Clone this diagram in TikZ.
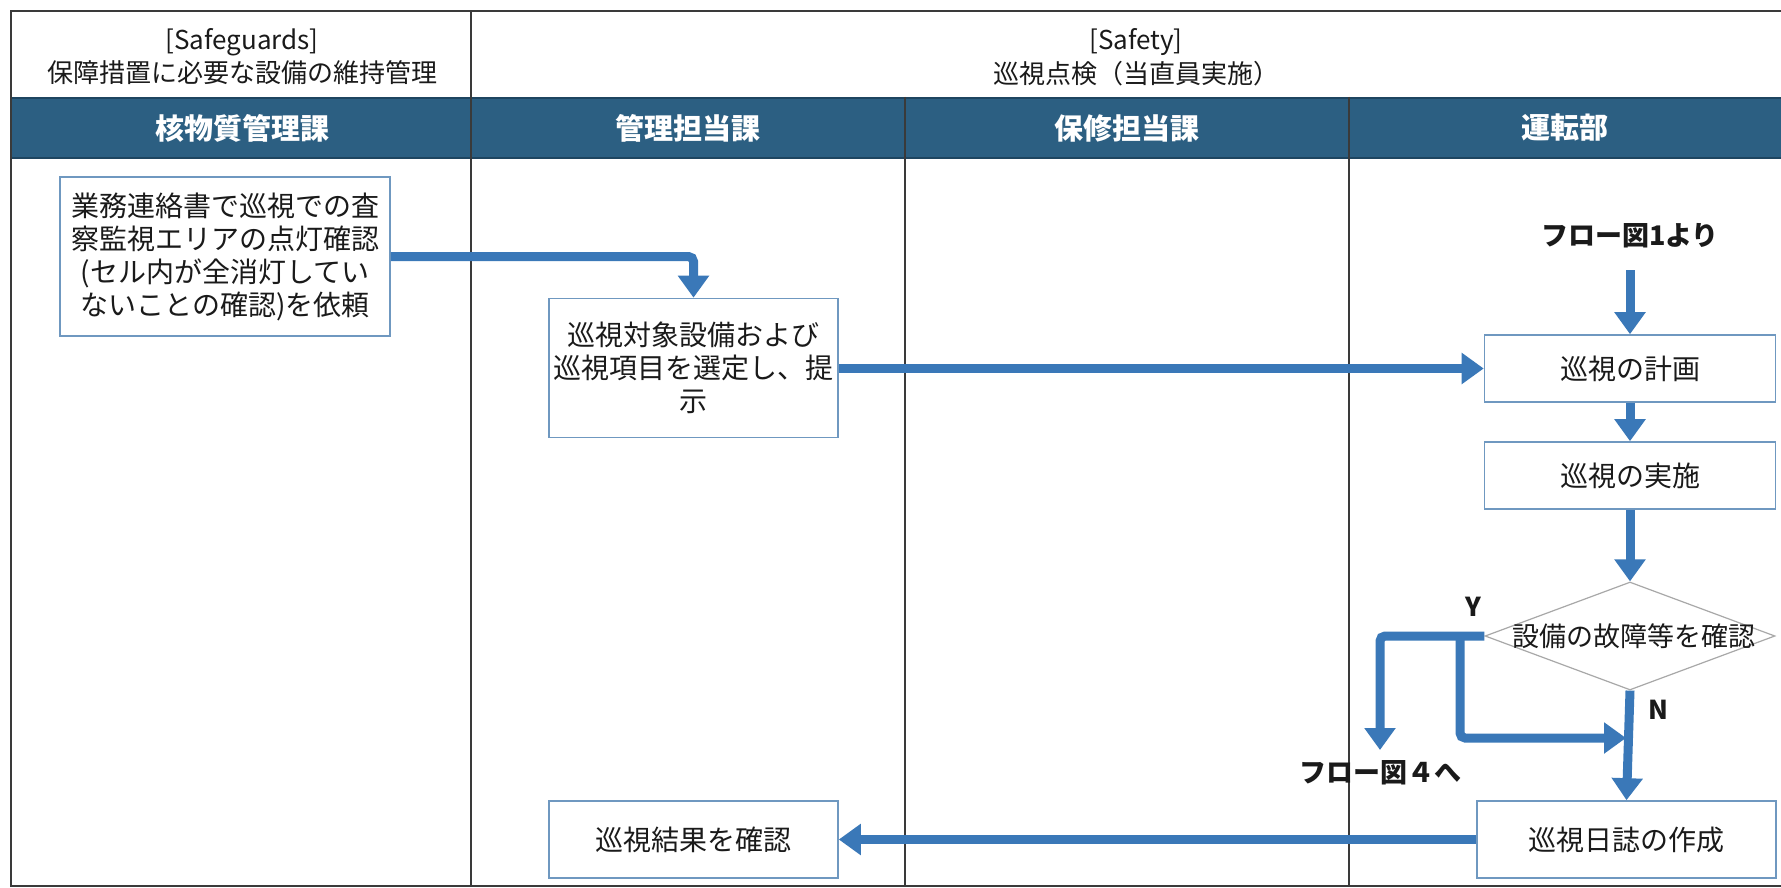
\documentclass[tikz,border=0pt]{standalone}
\usepackage{fontspec}
\setmainfont{Noto Sans CJK JP}
\usetikzlibrary{arrows.meta,shapes.geometric,calc}
\definecolor{bandc}{HTML}{2C5F82}
\definecolor{banddark}{HTML}{1E4560}
\definecolor{flowc}{HTML}{3A78B8}
\definecolor{boxc}{HTML}{6F98C0}
\definecolor{gridc}{HTML}{3A3A3A}
\definecolor{diac}{HTML}{A8A8A8}
\definecolor{txtc}{HTML}{1A1A1A}
\begin{document}
\begin{tikzpicture}[x=1pt,y=-1pt,
  gridline/.style={draw=gridc,line width=2.2pt},
  procbox/.style={draw=boxc,line width=1.6pt,fill=white,inner sep=0pt,align=center,
    text=txtc,font=\fontsize{28}{33}\selectfont},
  decbox/.style={draw=diac,line width=1.2pt,diamond,inner sep=0pt,fill=white},
  flow/.style={color=flowc,line width=9pt,rounded corners=5pt,-{Triangle[width=30pt,length=22pt]}},
  headtxt/.style={text=txtc,font=\fontsize{26}{30}\selectfont,inner sep=0pt},
  bandtxt/.style={text=white,font=\bfseries\fontsize{29}{32}\selectfont,inner sep=0pt},
  boldlbl/.style={text=txtc,font=\bfseries\fontsize{27}{30}\selectfont,inner sep=0pt}
]
\useasboundingbox (0,0) rectangle (1781,888);
\fill[white] (0,0) rectangle (1781,888);

% band
\fill[bandc] (11,97) rectangle (1790,159);
\draw[banddark,line width=2pt] (11,98) -- (1790,98);
\draw[banddark,line width=2pt] (11,158) -- (1790,158);

% grid
\draw[gridline] (1790,11) -- (11,11) -- (11,886) -- (1790,886);
\draw[gridline] (471,11) -- (471,886);
\draw[gridline] (905,97) -- (905,886);
\draw[gridline] (1349,97) -- (1349,886);

% header texts
\node[headtxt] (sg1) at (242,42) {[Safeguards]};
\node[headtxt] (sg2) at (242,73) {保障措置に必要な設備の維持管理};
\node[headtxt] (sf1) at (1136,42) {[Safety]};
\node[headtxt] (sf2) at (1136,74) {巡視点検（当直員実施）};

\node[bandtxt] (h1) at (242,128) {核物質管理課};
\node[bandtxt] (h2) at (688,128) {管理担当課};
\node[bandtxt] (h3) at (1127,128) {保修担当課};
\node[bandtxt] (h4) at (1565,128) {運転部};

% boxes
\node[procbox,minimum width=330pt,minimum height=159pt] (A) at (225,256.5)
  {業務連絡書で巡視での査\\察監視エリアの点灯確認\\(セル内が全消灯してい\\ないことの確認)を依頼};
\node[procbox,minimum width=289pt,minimum height=139pt] (B) at (693.5,368)
  {巡視対象設備および\\巡視項目を選定し、提\\示};
\node[procbox,minimum width=291pt,minimum height=67pt] (C) at (1630,368.5) {巡視の計画};
\node[procbox,minimum width=291pt,minimum height=67pt] (D) at (1630,475.5) {巡視の実施};
\node[decbox,minimum width=290pt,minimum height=108pt] (dia) at (1630,636) {};
\node[text=txtc,font=\fontsize{27}{30}\selectfont,inner sep=0pt] (diat) at (1634,636) {設備の故障等を確認};
\node[procbox,minimum width=299pt,minimum height=77pt] (E) at (1626.5,839.5) {巡視日誌の作成};
\node[procbox,minimum width=289pt,minimum height=77pt] (F) at (693.5,839.5) {巡視結果を確認};

% labels
\node[boldlbl] (t1) at (1630,236) {フロー図1より};
\node[boldlbl] (t4) at (1380,773) {フロー図４へ};
\node[boldlbl,font=\bfseries\fontsize{26}{30}\selectfont] (ly) at (1473,607) {Y};
\node[boldlbl,font=\bfseries\fontsize{26}{30}\selectfont] (ln) at (1658,710) {N};

% coordinates
\coordinate (f1s) at (1630,270);
\coordinate (yend) at (1380,750);
\coordinate (br) at (1460,636);
\coordinate (join) at (1626,738);

% connectors
\draw[flow] (A.east) -| (B.north);
\draw[flow] (C.west -| B.east) -- (C.west);
\draw[flow] (f1s) -- (C.north);
\draw[flow] (C.south) -- (D.north);
\draw[flow] (D.south) -- (dia.north);
\draw[flow] (dia.west) -| (yend);
\draw[flow] (br) |- (join);
\draw[flow] (dia.south) -- (E.north);
\draw[flow] (E.west) -- (F.east);
\end{tikzpicture}
\end{document}
